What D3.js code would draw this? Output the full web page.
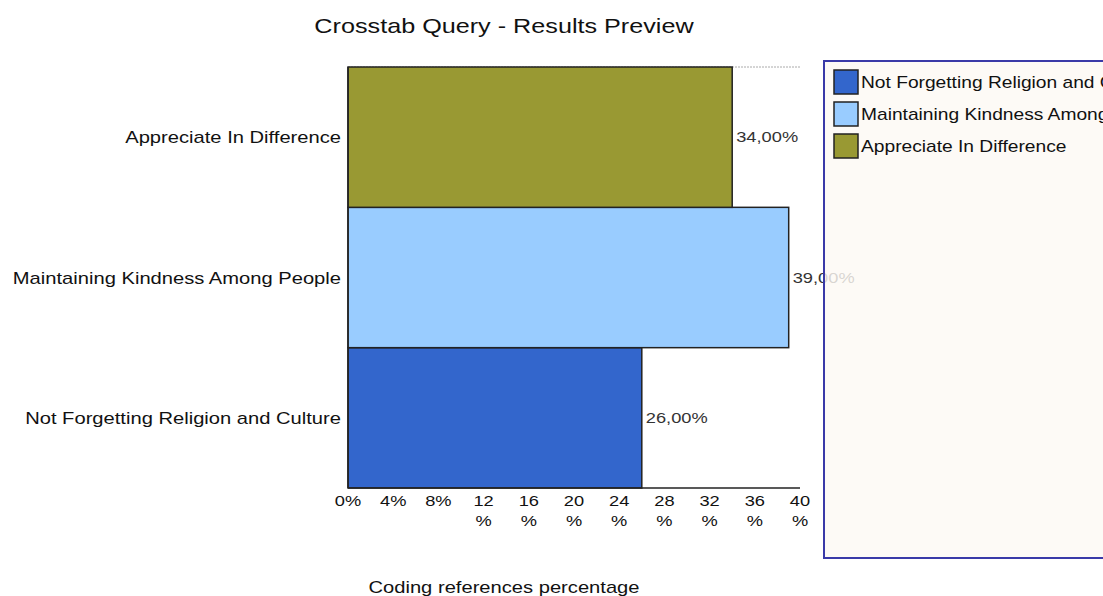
<!DOCTYPE html>
<html lang="en">
  <head>
    <meta charset="UTF-8" />
    <title>Crosstab Query - Results Preview</title>
    <script src="https://d3js.org/d3.v7.min.js"></script>
    <style>
      body {
        margin: 0;
        background: #ffffff;
        font-family: 'Liberation Sans', Arial, sans-serif;
        overflow: hidden;
      }
    </style>
  </head>
  <body>
    <div id="chart"></div>
    <script>
      // Data (bottom to top in the picture)
      const categories = [
        'Not Forgetting Religion and Culture',
        'Maintaining Kindness Among People',
        'Appreciate In Difference',
      ];
      const values = [26, 39, 34];
      const colors = ['#3366cc', '#99ccff', '#999933'];
      const ticks = [0, 4, 8, 12, 16, 20, 24, 28, 32, 36, 40];

      const w = 1103,
        h = 596;
      const mLeft = 348,
        mRight = 800,
        mTop = 67,
        mBottom = 488;
      const sx = 1.26; // the source text is drawn horizontally stretched

      const svg = d3
        .select('#chart')
        .append('svg')
        .attr('width', w)
        .attr('height', h);

      // text with a horizontal stretch
      function label(parent, px, py, str, size, anchor, fill, stretch) {
        return parent
          .append('text')
          .attr(
            'transform',
            `translate(${px},${py}) scale(${stretch || sx},1)`,
          )
          .attr('text-anchor', anchor || 'start')
          .attr('font-size', size)
          .attr('fill', fill || '#111')
          .text(str);
      }

      label(svg, 504, 33, 'Crosstab Query - Results Preview', 20, 'middle');

      const x = d3.scaleLinear().domain([0, 40]).range([mLeft, mRight]);
      const y = d3
        .scaleBand()
        .domain(categories)
        .range([mBottom, mTop])
        .padding(0);

      // dotted top border
      svg
        .append('line')
        .attr('x1', mLeft)
        .attr('x2', mRight)
        .attr('y1', mTop)
        .attr('y2', mTop)
        .attr('stroke', '#aaa')
        .attr('stroke-dasharray', '2,1');

      svg
        .selectAll('rect.bar')
        .data(categories)
        .join('rect')
        .attr('class', 'bar')
        .attr('x', x(0))
        .attr('y', (d) => y(d))
        .attr('width', (d, i) => x(values[i]) - x(0))
        .attr('height', y.bandwidth())
        .attr('fill', (d, i) => colors[i])
        .attr('stroke', '#222')
        .attr('stroke-width', 1.5);

      // axes lines
      svg
        .append('line')
        .attr('x1', mLeft)
        .attr('x2', mRight)
        .attr('y1', mBottom)
        .attr('y2', mBottom)
        .attr('stroke', '#222')
        .attr('stroke-width', 1.5);
      svg
        .append('line')
        .attr('x1', mLeft)
        .attr('x2', mLeft)
        .attr('y1', mTop)
        .attr('y2', mBottom)
        .attr('stroke', '#222')
        .attr('stroke-width', 1.5);

      // category labels
      categories.forEach((c) => {
        label(svg, mLeft - 7, y(c) + y.bandwidth() / 2 + 6, c, 16, 'end');
      });

      // value labels
      categories.forEach((c, i) => {
        label(
          svg,
          x(values[i]) + 4,
          y(c) + y.bandwidth() / 2 + 5,
          values[i].toFixed(2).replace('.', ',') + '%',
          14.5,
          'start',
          '#333',
        );
      });

      // x tick labels
      ticks.forEach((d) => {
        if (d < 10) {
          label(svg, x(d), 506, d + '%', 14.5, 'middle');
        } else {
          label(svg, x(d), 506, d, 14.5, 'middle');
          label(svg, x(d), 526, '%', 14.5, 'middle');
        }
      });

      label(svg, 504, 593, 'Coding references percentage', 16, 'middle');

      // legend (slightly see-through, as in the source)
      const lg = svg.append('g');
      lg.append('rect')
        .attr('x', 824)
        .attr('y', 61)
        .attr('width', 300)
        .attr('height', 497)
        .attr('fill', '#fdf9f4')
        .attr('fill-opacity', 0.82)
        .attr('stroke', '#3a3aa8')
        .attr('stroke-width', 2);
      categories.forEach((c, i) => {
        const yy = 70 + i * 32;
        lg.append('rect')
          .attr('x', 834)
          .attr('y', yy)
          .attr('width', 24)
          .attr('height', 24)
          .attr('fill', colors[i])
          .attr('stroke', '#222')
          .attr('stroke-width', 1.5);
        label(lg, 861, yy + 18, c, 16, 'start', '#111', 1.2);
      });
    </script>
  </body>
</html>
